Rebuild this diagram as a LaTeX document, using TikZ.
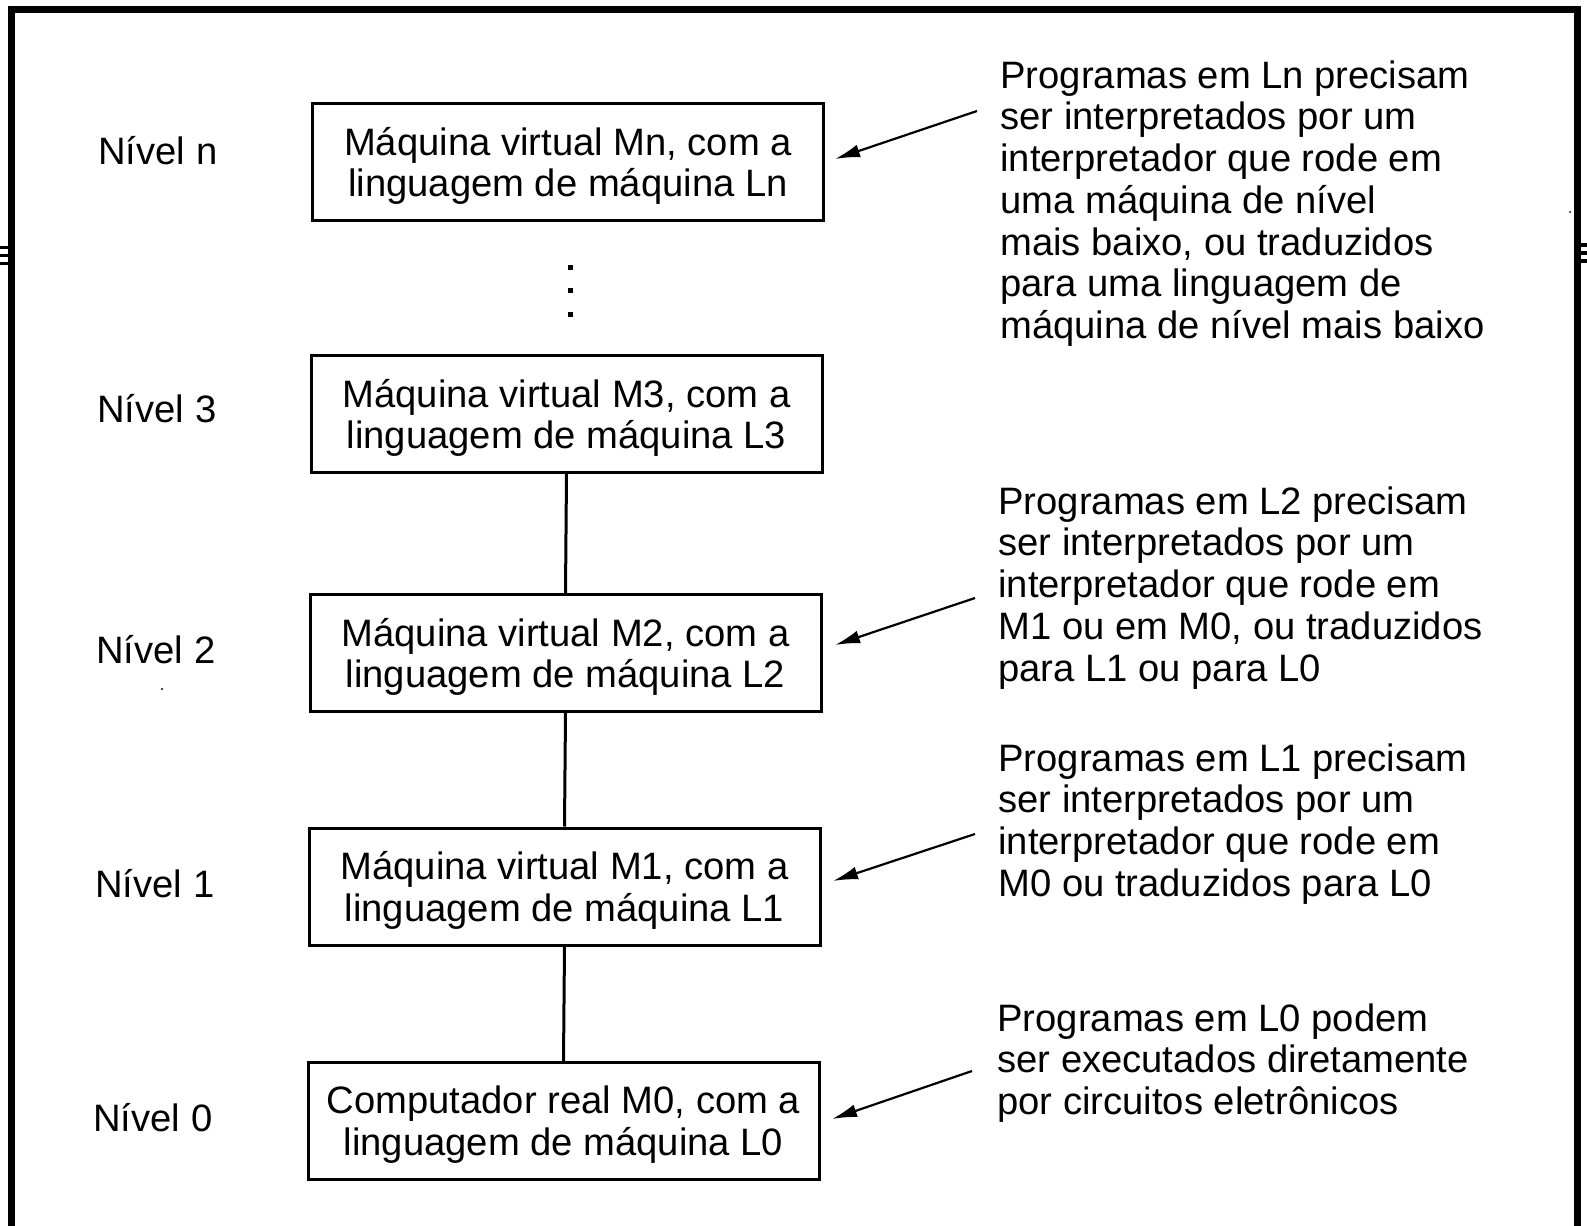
\documentclass[tikz,border=0pt]{standalone}
\usepackage{fontspec}
\setmainfont{Liberation Sans}
\usetikzlibrary{arrows.meta}
\newcommand{\txtfont}{\fontsize{19.1pt}{20.9pt}\selectfont}
\tikzset{
  lvlbox/.style={draw, line width=1.5pt, minimum width=255.5pt, minimum height=58.5pt,
    inner sep=0pt, align=center, font=\txtfont, text depth=0pt},
  lvllabel/.style={anchor=base west, inner sep=0pt, font=\txtfont},
  note/.style={anchor=base west, inner sep=0pt, font=\txtfont},
  link/.style={line width=1.5pt},
  arr/.style={line width=1.1pt, -{Latex[length=12.5pt,width=6.5pt]}},
  frame/.style={line width=3.2pt, line join=miter},
}
\begin{document}
\begin{tikzpicture}[x=0.5pt, y=-0.5pt]
\useasboundingbox (0,0) rectangle (1587,1226);
% outer frame (open at the bottom)
\draw[frame] (11.5,1230) -- (11.5,9.5) -- (1577.5,9.5) -- (1577.5,1230);
% scan marks at the sides
\draw[line width=1.7pt] (0,247.5) -- (10,247.5) (0,255.5) -- (10,255.5) (0,263.5) -- (10,263.5);
\draw[line width=1.7pt] (1579,245) -- (1587,245) (1579,253) -- (1587,253) (1579,261) -- (1587,261);
\fill (162,689) circle (1.2);
\fill (1570,212) circle (1);

% level boxes
\node[lvlbox] (Ln) at (568,162) {Máquina virtual Mn, com a\\linguagem de máquina Ln};
\node[lvlbox] (M3) at (566.5,414) {Máquina virtual M3, com a\\linguagem de máquina L3};
\node[lvlbox] (M2) at (565.5,653) {Máquina virtual M2, com a\\linguagem de máquina L2};
\node[lvlbox] (M1) at (564.5,886.5) {Máquina virtual M1, com a\\linguagem de máquina L1};
\node[lvlbox] (M0) at (563.5,1121) {Computador real M0, com a\\linguagem de máquina L0};

% vertical ellipsis
\fill (567.5,264.5) rectangle +(5,5);
\fill (567.5,287.5) rectangle +(5,5);
\fill (567.5,311.5) rectangle +(5,5);

% connectors
\draw[link] (M3.south) -- (M2.north);
\draw[link] (M2.south) -- (M1.north);
\draw[link] (M1.south) -- (M0.north);

% level labels
\node[lvllabel] (Nn) at (98,164) {Nível n};
\node[lvllabel] (N3) at (97,422) {Nível 3};
\node[lvllabel] (N2) at (96,663) {Nível 2};
\node[lvllabel] (N1) at (95,897) {Nível 1};
\node[lvllabel] (N0) at (93,1131) {Nível 0};

% notes
\node[note] (Tn) at (1000,88) {\begin{tabular}[t]{@{}l@{}}Programas em Ln precisam\\ser interpretados por um\\interpretador que rode em\\uma máquina de nível\\mais baixo, ou traduzidos\\para uma linguagem de\\máquina de nível mais baixo\end{tabular}};
\node[note] (T2) at (998,514) {\begin{tabular}[t]{@{}l@{}}Programas em L2 precisam\\ser interpretados por um\\interpretador que rode em\\M1 ou em M0, ou traduzidos\\para L1 ou para L0\end{tabular}};
\node[note] (T1) at (998,771) {\begin{tabular}[t]{@{}l@{}}Programas em L1 precisam\\ser interpretados por um\\interpretador que rode em\\M0 ou traduzidos para L0\end{tabular}};
\node[note] (T0) at (997,1031) {\begin{tabular}[t]{@{}l@{}}Programas em L0 podem\\ser executados diretamente\\por circuitos eletrônicos\end{tabular}};

% arrows
\coordinate (sn) at (977,111);
\coordinate (s2) at (975,598);
\coordinate (s1) at (975,834);
\coordinate (s0) at (972,1071);
\coordinate (en) at (835,159);
\coordinate (e2) at (835,645);
\coordinate (e1) at (833,881);
\coordinate (e0) at (832,1119);
\draw[arr] (sn) -- (en);
\draw[arr] (s2) -- (e2);
\draw[arr] (s1) -- (e1);
\draw[arr] (s0) -- (e0);
\end{tikzpicture}
\end{document}
